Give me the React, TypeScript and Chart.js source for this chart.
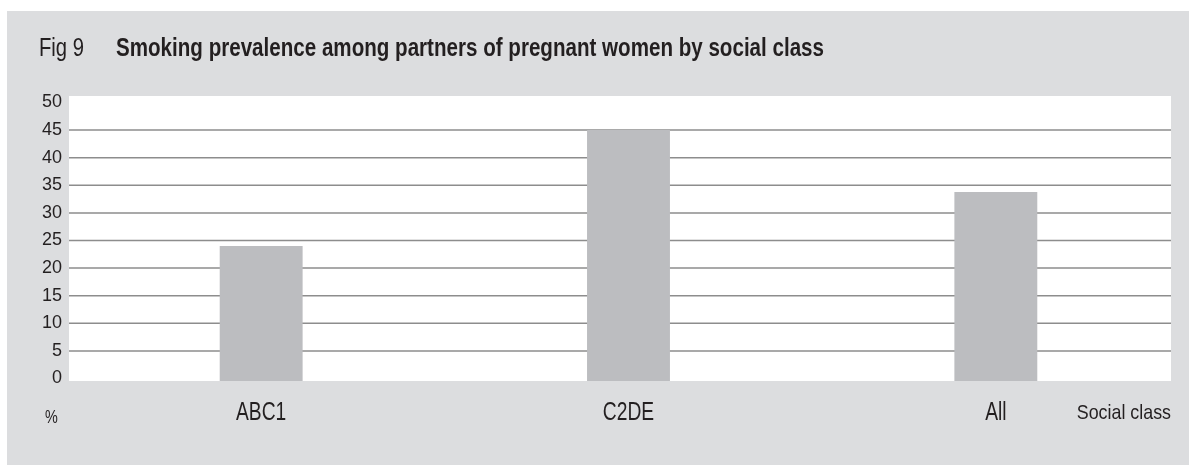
import React, { useEffect, useRef } from "react";
import { Chart, registerables } from "chart.js";

Chart.register(...registerables);

const categories = ["ABC1", "C2DE", "All"];
const smokingPrevalence = [24, 45, 33.8];
const yTickValues = [0, 5, 10, 15, 20, 25, 30, 35, 40, 45, 50];
const gridValues = [5, 10, 15, 20, 25, 30, 35, 40, 45];
const figLabel = "Fig 9";
const titleText = "Smoking prevalence among partners of pregnant women by social class";
const yUnitLabel = "%";
const xAxisTitle = "Social class";

const SANS = "'Liberation Sans', Arial, Helvetica, sans-serif";
const TEXT = "#231f20";
const PANEL = "#dcdddf";
const BAR = "#bcbdc0";
const GRID = "#8d8d8d";

// draw text horizontally condensed (emulates Helvetica Condensed)
function narrowText(
  ctx: CanvasRenderingContext2D,
  text: string,
  x: number,
  y: number,
  font: string,
  sx: number,
  align: "left" | "center" | "right",
  targetWidth?: number
) {
  ctx.save();
  ctx.font = font;
  ctx.textAlign = "left";
  ctx.textBaseline = "alphabetic";
  const w = ctx.measureText(text).width;
  const scaleX = targetWidth ? targetWidth / w : sx;
  const drawnW = w * scaleX;
  let left = x;
  if (align === "center") left = x - drawnW / 2;
  if (align === "right") left = x - drawnW;
  ctx.translate(left, y);
  ctx.scale(scaleX, 1);
  ctx.fillText(text, 0, 0);
  ctx.restore();
}

const decor = {
  id: "decor",
  beforeDraw(chart: any) {
    const { ctx, chartArea } = chart;
    ctx.save();
    ctx.fillStyle = "#ffffff";
    ctx.fillRect(0, 0, chart.width, chart.height);
    ctx.fillStyle = PANEL;
    ctx.fillRect(7, 11, chart.width - 7, chart.height - 11);
    const left = chartArea.left - 8.5;
    const right = chartArea.right - 8.5;
    ctx.fillStyle = "#ffffff";
    ctx.fillRect(left, chartArea.top, right - left, chartArea.bottom - chartArea.top);
    ctx.fillStyle = TEXT;
    narrowText(ctx, figLabel, 39, 56, `normal 25px ${SANS}`, 0.81, "left");
    narrowText(ctx, titleText, 116, 56, `bold 25px ${SANS}`, 0.78, "left", 708);
    narrowText(ctx, yUnitLabel, 45, 423, `normal 18px ${SANS}`, 0.8, "left");
    narrowText(ctx, xAxisTitle, right, 419, `normal 21px ${SANS}`, 0.85, "right");
    ctx.restore();
  },
  beforeDatasetsDraw(chart: any) {
    const { ctx, chartArea, scales } = chart;
    const left = chartArea.left - 8.5;
    const right = chartArea.right - 8.5;
    ctx.save();
    ctx.strokeStyle = GRID;
    ctx.lineWidth = 1.5;
    gridValues.forEach((v) => {
      const y = scales.y.getPixelForValue(v);
      ctx.beginPath();
      ctx.moveTo(left, y);
      ctx.lineTo(right, y);
      ctx.stroke();
    });
    ctx.fillStyle = TEXT;
    categories.forEach((c, i) => {
      const x = scales.x.getPixelForValue(i);
      narrowText(ctx, c, x, 419.5, `normal 25px ${SANS}`, 0.77, "center");
    });
    ctx.restore();
  },
};

export default function App() {
  const ref = useRef<HTMLCanvasElement | null>(null);
  useEffect(() => {
    document.body.style.margin = "0";
    const canvas = ref.current;
    if (!canvas) return;
    const chart = new Chart(canvas, {
      type: "bar",
      data: {
        labels: categories,
        datasets: [
          {
            data: smokingPrevalence,
            backgroundColor: BAR,
            borderWidth: 0,
            barPercentage: 0.2257,
            categoryPercentage: 1,
            base: -0.45,
          },
        ],
      },
      options: {
        responsive: false,
        animation: false,
        devicePixelRatio: 1,
        layout: { padding: { top: 96, right: 9.5, bottom: 0, left: 0 } },
        plugins: {
          legend: { display: false },
          tooltip: { enabled: false },
          title: { display: false },
        },
        scales: {
          x: {
            grid: { display: false, drawTicks: false },
            border: { display: false },
            ticks: { display: false },
            afterFit: (s: any) => {
              s.height = 84;
            },
          },
          y: {
            min: -0.45,
            max: 51.18,
            grid: { display: false, drawTicks: false },
            border: { display: false },
            afterBuildTicks: (s: any) => {
              s.ticks = yTickValues.map((v) => ({ value: v }));
            },
            ticks: {
              color: TEXT,
              font: { family: SANS, size: 18 },
              padding: 15.5,
              callback: (v: any) => String(v),
            },
            afterFit: (s: any) => {
              s.width = 77.5;
            },
          },
        },
      },
      plugins: [decor],
    });
    return () => chart.destroy();
  }, []);
  return (
    <div style={{ width: 1189, height: 465 }}>
      <canvas ref={ref} width={1189} height={465} style={{ display: "block" }} />
    </div>
  );
}
